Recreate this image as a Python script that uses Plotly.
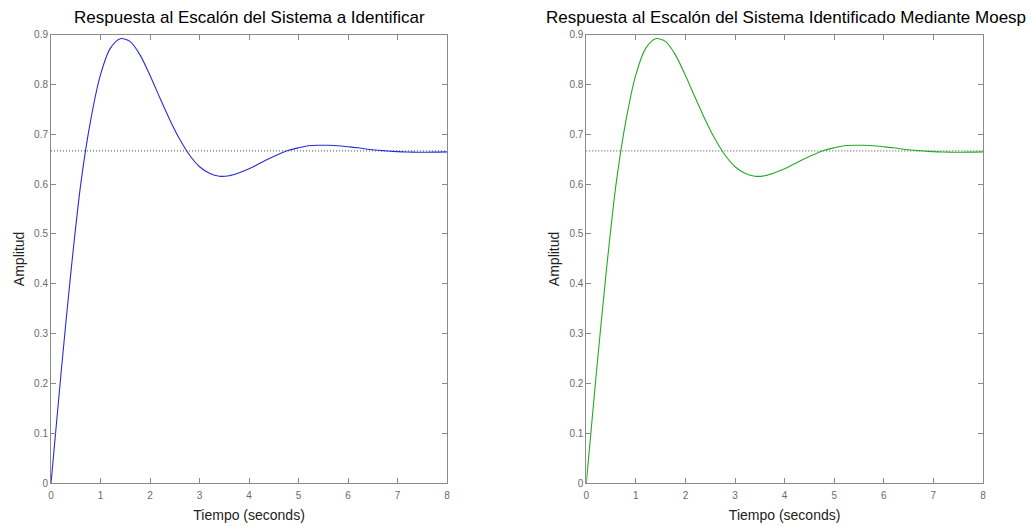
import plotly.graph_objects as go

# Time samples (seconds)
tiempo = [0.0, 0.2, 0.4, 0.6, 0.8, 1.0, 1.2, 1.4, 1.6, 1.8, 2.0, 2.2, 2.4, 2.6, 2.8,
          3.0, 3.2, 3.4, 3.6, 3.8, 4.0, 4.2, 4.4, 4.6, 4.8, 5.0, 5.2, 5.4, 5.6, 5.8,
          6.0, 6.2, 6.4, 6.6, 6.8, 7.0, 7.2, 7.4, 7.6, 7.8, 8.0]

# Step response of the system to identify (left, blue)
amp_sistema = [0.0, 0.218, 0.422, 0.600, 0.728, 0.820, 0.873, 0.892, 0.886, 0.859, 0.818,
               0.773, 0.729, 0.690, 0.658, 0.635, 0.622, 0.616, 0.617, 0.623, 0.631, 0.641,
               0.651, 0.660, 0.668, 0.673, 0.677, 0.678, 0.678, 0.677, 0.675, 0.673, 0.670,
               0.668, 0.6665, 0.6653, 0.6645, 0.6641, 0.6641, 0.6644, 0.6648]

# Step response of the system identified by MOESP (right, green)
amp_moesp = [0.0, 0.218, 0.422, 0.600, 0.728, 0.820, 0.873, 0.892, 0.886, 0.859, 0.818,
             0.773, 0.729, 0.690, 0.658, 0.635, 0.622, 0.616, 0.617, 0.623, 0.631, 0.641,
             0.651, 0.660, 0.668, 0.673, 0.677, 0.678, 0.678, 0.677, 0.675, 0.673, 0.670,
             0.668, 0.6665, 0.6653, 0.6645, 0.6641, 0.6641, 0.6644, 0.6648]

# Steady-state value (dotted reference line)
ss_t = [0, 8]
ss_val = [0.6667, 0.6667]

x_ticks = [0, 1, 2, 3, 4, 5, 6, 7, 8]
y_ticks = [0, 0.1, 0.2, 0.3, 0.4, 0.5, 0.6, 0.7, 0.8, 0.9]

titles = ["Respuesta al Escalón del Sistema a Identificar",
          "Respuesta al Escalón del Sistema Identificado Mediante Moesp"]

FONT = "Liberation Sans, Arial, sans-serif"
W, H = 1034, 526

fig = go.Figure()

dot_style = dict(color="#444444", width=1, dash="1px,2px")
fig.add_trace(go.Scatter(x=ss_t, y=ss_val, mode="lines", xaxis="x", yaxis="y",
                         line=dot_style, hoverinfo="skip"))
fig.add_trace(go.Scatter(x=tiempo, y=amp_sistema, mode="lines", xaxis="x", yaxis="y",
                         line=dict(color="#2a2ad8", width=1.1, shape="spline", smoothing=0.8)))
fig.add_trace(go.Scatter(x=ss_t, y=ss_val, mode="lines", xaxis="x2", yaxis="y2",
                         line=dot_style, hoverinfo="skip"))
fig.add_trace(go.Scatter(x=tiempo, y=amp_moesp, mode="lines", xaxis="x2", yaxis="y2",
                         line=dict(color="#22aa22", width=1.1, shape="spline", smoothing=0.8)))

dom_x1 = [48.3 / W, 446.7 / W]
dom_x2 = [586.7 / W, 985.7 / W]
dom_y = [1 - 487.3 / H, 1 - 29.3 / H]

axis_common = dict(
    showgrid=False, zeroline=False, showline=True, linecolor="#8a8a8a", linewidth=1,
    mirror="ticks", ticks="inside", ticklen=5, tickcolor="#8a8a8a", tickwidth=1,
    tickfont=dict(family=FONT, size=10, color="#6a6a6a"),
)

xa = dict(axis_common, range=[0, 8], tickvals=x_ticks, ticktext=[str(v) for v in x_ticks],
          ticklabelstandoff=3,
          title=dict(text="Tiempo (seconds)", font=dict(family=FONT, size=14, color="#222"), standoff=10))
ya = dict(axis_common, range=[0, 0.9], tickvals=y_ticks, ticktext=["0"] + [f"{v:.1f}" for v in y_ticks[1:]],
          title=dict(text="Amplitud", font=dict(family=FONT, size=14, color="#222"), standoff=6))

fig.update_layout(
    width=W, height=H, autosize=False,
    margin=dict(l=0, r=0, t=0, b=0),
    paper_bgcolor="white", plot_bgcolor="white",
    showlegend=False,
    xaxis=dict(xa, domain=dom_x1, anchor="y"),
    yaxis=dict(ya, domain=dom_y, anchor="x"),
    xaxis2=dict(xa, domain=dom_x2, anchor="y2"),
    yaxis2=dict(ya, domain=dom_y, anchor="x2"),
    annotations=[
        dict(text=titles[0], x=(dom_x1[0] + dom_x1[1]) / 2, y=1 - 24 / H, xref="paper", yref="paper",
             xanchor="center", yanchor="bottom", showarrow=False,
             font=dict(family=FONT, size=17, color="black")),
        dict(text=titles[1], x=787.5 / W, y=1 - 24 / H, xref="paper", yref="paper",
             xanchor="center", yanchor="bottom", showarrow=False,
             font=dict(family=FONT, size=17, color="black")),
    ],
)

fig.write_html("out.html")
